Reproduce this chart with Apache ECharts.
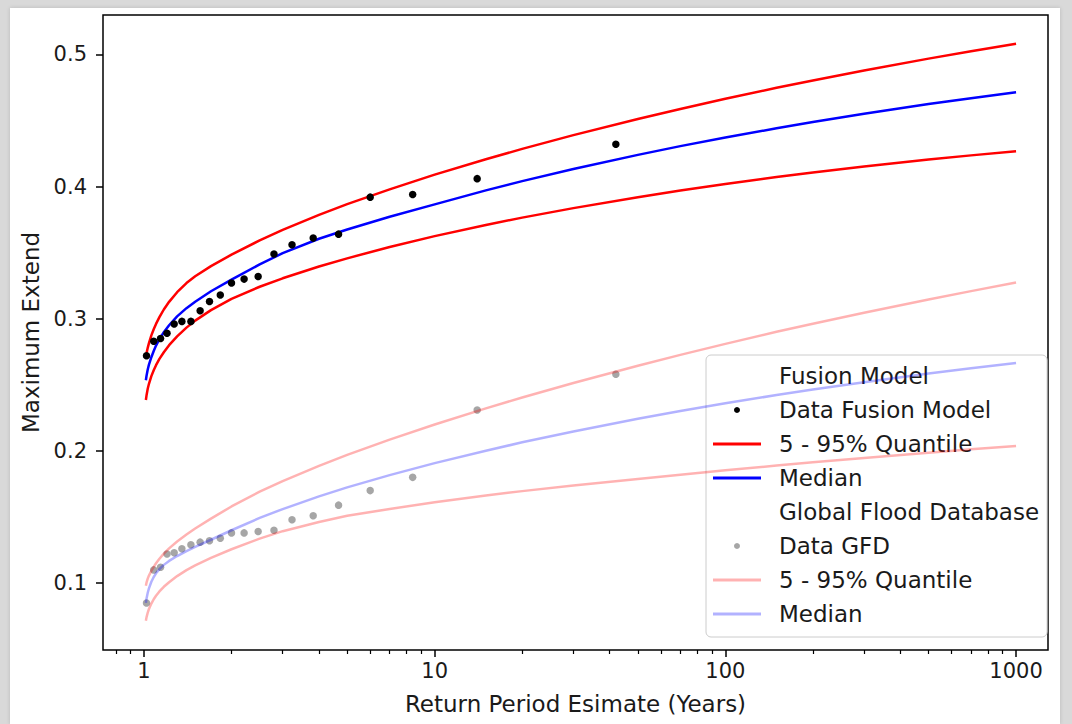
<!DOCTYPE html>
<html>
<head>
<meta charset="utf-8">
<script src="https://cdn.jsdelivr.net/npm/echarts@6/dist/echarts.min.js"></script>
<style>
  html, body { margin: 0; padding: 0; width: 1072px; height: 724px; background: #d9d9d9; overflow: hidden; }
  #paper { position: absolute; left: 10px; top: 8px; width: 1050px; height: 716px; background: #ffffff; box-shadow: 0 0 4px rgba(0,0,0,0.15); }
  #chart { position: absolute; left: 0; top: 0; width: 1072px; height: 724px; }
</style>
</head>
<body>
<div id="paper"></div>
<div id="chart"></div>
<script>
// Return periods (years) at which the fitted curves are sampled
const curveT = [1.015, 1.02, 1.03, 1.04, 1.06, 1.08, 1.1, 1.13, 1.17, 1.22, 1.3, 1.4, 1.5, 1.7, 2, 2.5, 3, 4, 5, 7, 10, 15, 20, 30, 50, 70, 100, 150, 200, 300, 500, 700, 1000];
// Fusion model curves
const fusionUpper  = [0.2712,0.2738,0.2780,0.2816,0.2874,0.2921,0.2961,0.3012,0.3070,0.3128,0.3201,0.3270,0.3321,0.3398,0.3485,0.3593,0.3673,0.3786,0.3867,0.3979,0.4090,0.4207,0.4285,0.4389,0.4511,0.4587,0.4664,0.4747,0.4803,0.4878,0.4968,0.5024,0.5080];
const fusionMedian = [0.2535,0.2567,0.2616,0.2653,0.2709,0.2756,0.2797,0.2845,0.2898,0.2951,0.3018,0.3080,0.3129,0.3208,0.3296,0.3411,0.3496,0.3605,0.3675,0.3772,0.3865,0.3971,0.4041,0.4133,0.4240,0.4306,0.4371,0.4441,0.4488,0.4551,0.4624,0.4669,0.4714];
const fusionLower  = [0.2385,0.2419,0.2470,0.2508,0.2566,0.2611,0.2649,0.2696,0.2747,0.2800,0.2867,0.2933,0.2986,0.3065,0.3150,0.3242,0.3306,0.3395,0.3457,0.3543,0.3625,0.3710,0.3765,0.3837,0.3920,0.3970,0.4019,0.4072,0.4106,0.4152,0.4204,0.4236,0.4268];
// Global Flood Database curves
const gfdUpper  = [0.0980,0.1003,0.1034,0.1057,0.1093,0.1123,0.1150,0.1184,0.1223,0.1263,0.1315,0.1368,0.1413,0.1488,0.1580,0.1692,0.1772,0.1887,0.1970,0.2086,0.2200,0.2322,0.2404,0.2514,0.2645,0.2727,0.2810,0.2901,0.2962,0.3046,0.3146,0.3209,0.3274];
const gfdMedian = [0.0850,0.0882,0.0927,0.0960,0.1010,0.1046,0.1074,0.1106,0.1138,0.1168,0.1205,0.1242,0.1274,0.1328,0.1400,0.1493,0.1560,0.1656,0.1724,0.1817,0.1908,0.2002,0.2065,0.2147,0.2243,0.2302,0.2360,0.2423,0.2464,0.2520,0.2586,0.2626,0.2666];
const gfdLower  = [0.0715,0.0741,0.0777,0.0804,0.0845,0.0878,0.0904,0.0937,0.0972,0.1006,0.1053,0.1098,0.1134,0.1191,0.1256,0.1337,0.1393,0.1463,0.1509,0.1561,0.1611,0.1663,0.1696,0.1738,0.1788,0.1820,0.1853,0.1889,0.1914,0.1947,0.1987,0.2012,0.2038];
// Observed data (plotting positions)
const pointT    = [1.02,1.08,1.14,1.2,1.27,1.35,1.45,1.56,1.68,1.83,2.0,2.21,2.47,2.8,3.23,3.82,4.67,6.0,8.4,14,42];
const fusionPts = [0.272,0.283,0.285,0.289,0.296,0.298,0.298,0.306,0.313,0.318,0.327,0.330,0.332,0.349,0.356,0.361,0.364,0.392,0.394,0.406,0.432];
const gfdPts    = [0.085,0.110,0.112,0.122,0.123,0.126,0.129,0.131,0.132,0.134,0.138,0.138,0.139,0.140,0.148,0.151,0.159,0.170,0.180,0.231,0.258];
// Axis ticks
const xMajorTicks = [1, 10, 100, 1000];
const xMinorTicks = [0.8, 0.9, 2, 3, 4, 5, 6, 7, 8, 9, 20, 30, 40, 50, 60, 70, 80, 90, 200, 300, 400, 500, 600, 700, 800, 900];
const yTicks = [0.1, 0.2, 0.3, 0.4, 0.5];
// Legend entries: series name -> shown label
const legendNames  = ['Fusion Model', 'Data Fusion Model', 'Fusion 5 - 95% Quantile', 'Fusion Median', 'Global Flood Database', 'Data GFD', 'GFD 5 - 95% Quantile', 'GFD Median'];
const legendLabels = ['Fusion Model', 'Data Fusion Model', '5 - 95% Quantile', 'Median', 'Global Flood Database', 'Data GFD', '5 - 95% Quantile', 'Median'];

const FONT = 'DejaVu Sans';
const TXT = '#1a1a1a';
const pairs = (xs, ys) => xs.map((x, i) => [x, ys[i]]);
const labelOf = {};
legendNames.forEach((n, i) => { labelOf[n] = legendLabels[i]; });

const RED = '#ff0000', BLUE = '#0000ff';
const LRED = 'rgba(255,0,0,0.3)', LBLUE = 'rgba(0,0,255,0.3)';
const GREY = 'rgba(128,128,128,0.7)';

function lineSeries(name, ys, color, z) {
  return {
    name, type: 'line', data: pairs(curveT, ys), color,
    showSymbol: false, symbol: 'none', smooth: false,
    lineStyle: { color, width: 2.5, join: 'round' }, z, silent: true, animation: false
  };
}

const lineIcon = 'path://M0,0H48V3H0Z';
const chart = echarts.init(document.getElementById('chart'), null, { renderer: 'svg' });
chart.setOption({
  animation: false,
  grid: { left: 103, top: 15, right: 24, bottom: 74, show: true, borderColor: '#000', borderWidth: 1.5, backgroundColor: 'transparent' },
  xAxis: [
    {
      type: 'log', logBase: 10, min: 0.7227, max: 1288, position: 'bottom',
      name: 'Return Period Esimate (Years)', nameLocation: 'middle', nameGap: 42,
      nameTextStyle: { fontFamily: FONT, fontSize: 23, color: TXT },
      axisLine: { show: false },
      axisTick: { show: true, inside: false, length: 7, lineStyle: { color: '#000', width: 1.5 }, customValues: xMajorTicks },
      axisLabel: { show: true, margin: 10, fontFamily: FONT, fontSize: 21, color: TXT, customValues: xMajorTicks,
        formatter: v => String(Math.round(v)) },
      splitLine: { show: false }, minorTick: { show: false }
    },
    {
      type: 'log', logBase: 10, min: 0.7227, max: 1288, position: 'bottom',
      axisLine: { show: false },
      axisTick: { show: true, inside: false, length: 4, lineStyle: { color: '#000', width: 1.2 }, customValues: xMinorTicks },
      axisLabel: { show: false },
      splitLine: { show: false }
    }
  ],
  yAxis: {
    type: 'value', min: 0.0494, max: 0.5298,
    name: 'Maximum Extend', nameLocation: 'middle', nameGap: 59,
    nameTextStyle: { fontFamily: FONT, fontSize: 23, color: TXT },
    axisLine: { show: false },
    axisTick: { show: true, inside: false, length: 7, lineStyle: { color: '#000', width: 1.5 }, customValues: yTicks },
    axisLabel: { show: true, margin: 16, fontFamily: FONT, fontSize: 21, color: TXT, customValues: yTicks,
      formatter: v => v.toFixed(1) },
    splitLine: { show: false }
  },
  legend: {
    orient: 'vertical', left: 706, top: 355,
    padding: [4, 8, 6, 7], itemGap: 0, itemWidth: 48, itemHeight: 6,
    backgroundColor: 'rgba(255,255,255,0.8)', borderColor: '#cccccc', borderWidth: 1, borderRadius: 5,
    selectedMode: false,
    textStyle: { fontFamily: FONT, fontSize: 23, color: TXT, lineHeight: 34, padding: [0, 0, 0, 13] },
    itemStyle: { borderWidth: 0 },
    formatter: n => labelOf[n],
    data: [
      { name: legendNames[0], icon: 'rect', itemStyle: { opacity: 0 } },
      { name: legendNames[1], icon: 'circle' },
      { name: legendNames[2], icon: lineIcon },
      { name: legendNames[3], icon: lineIcon },
      { name: legendNames[4], icon: 'rect', itemStyle: { opacity: 0 } },
      { name: legendNames[5], icon: 'circle' },
      { name: legendNames[6], icon: lineIcon },
      { name: legendNames[7], icon: lineIcon }
    ]
  },
  series: [
    { name: legendNames[0], type: 'line', data: [], showSymbol: false, color: 'rgba(0,0,0,0)' },
    { name: legendNames[4], type: 'line', data: [], showSymbol: false, color: 'rgba(0,0,0,0)' },
    { name: legendNames[5], type: 'scatter', data: pairs(pointT, gfdPts), symbolSize: 7.5, color: GREY,
      itemStyle: { color: GREY, opacity: 1 }, z: 3, silent: true },
    lineSeries(legendNames[6], gfdUpper, LRED, 4),
    lineSeries(legendNames[6], gfdLower, LRED, 4),
    lineSeries(legendNames[7], gfdMedian, LBLUE, 4),
    lineSeries(legendNames[2], fusionUpper, RED, 5),
    lineSeries(legendNames[2], fusionLower, RED, 5),
    lineSeries(legendNames[3], fusionMedian, BLUE, 5),
    { name: legendNames[1], type: 'scatter', data: pairs(pointT, fusionPts), symbolSize: 7.5, color: '#000',
      itemStyle: { color: '#000', opacity: 1 }, z: 6, silent: true }
  ]
});
</script>
</body>
</html>
